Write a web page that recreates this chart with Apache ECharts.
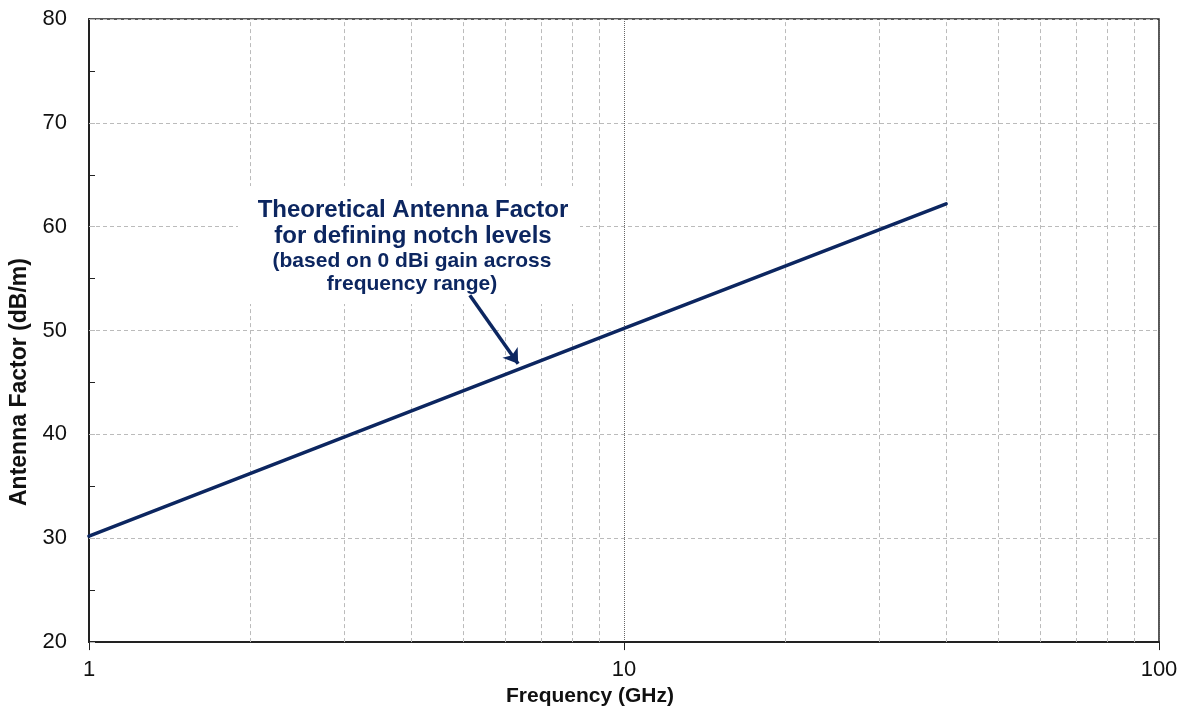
<!DOCTYPE html>
<html><head><meta charset="utf-8">
<script src="https://cdn.jsdelivr.net/npm/echarts@6/dist/echarts.min.js"></script>
<style>html,body{margin:0;padding:0;background:#fff}#c{width:1185px;height:712px}</style>
</head><body><div id="c"></div>
<script>
// Data
const freqGHz = [1, 10, 40];
const antennaFactor = [30.2, 50.2, 62.2];
const xTicks = [1, 10, 100];
const minorFreqs = [2,3,4,5,6,7,8,9,20,30,40,50,60,70,80,90];
const arrowFrom = [5.15, 53.4];
const arrowTo = [6.34, 46.8];
const annotTitle = ['Theoretical Antenna Factor', 'for defining notch levels'];
const annotSub = ['(based on 0 dBi gain across', 'frequency range)'];

const navy = '#0c2660';
const chart = echarts.init(document.getElementById('c'), null, {renderer: 'canvas'});
chart.setOption({
  animation: false,
  backgroundColor: '#fff',
  grid: {left: 89, right: 26, top: 19, bottom: 64, show: true, borderColor: '#222', borderWidth: 1.5, containLabel: false},
  xAxis: {
    type: 'log', logBase: 10, min: 1, max: 100,
    name: 'Frequency (GHz)', nameLocation: 'middle', nameGap: 41,
    nameTextStyle: {fontFamily: 'Liberation Sans', fontWeight: 'bold', fontSize: 21, color: '#111', padding: [0, 68, 0, 0]},
    axisLine: {show: true, lineStyle: {color: '#222', width: 2}},
    axisTick: {show: true, inside: false, length: 8, lineStyle: {color: '#222', width: 1}},
    axisLabel: {fontFamily: 'Liberation Sans', fontSize: 22, color: '#111', margin: 17,
      formatter: v => String(Math.round(v))},
    splitLine: {show: true, lineStyle: {color: '#666', type: 'dotted', width: 1}}
  },
  yAxis: {
    type: 'value', min: 20, max: 80, interval: 10,
    name: 'Antenna Factor (dB/m)', nameLocation: 'middle', nameGap: 57, nameRotate: 90,
    nameTextStyle: {fontFamily: 'Liberation Sans', fontWeight: 'bold', fontSize: 23, color: '#111', padding: [0, 103, 0, 0]},
    axisLine: {show: true, lineStyle: {color: '#222', width: 2}},
    axisTick: {show: true, inside: true, length: 6, lineStyle: {color: '#bbb', width: 1}},
    minorTick: {show: true, splitNumber: 2, length: 6, lineStyle: {color: '#222', width: 1}},
    axisLabel: {fontFamily: 'Liberation Sans', fontSize: 22, color: '#111', margin: 22},
    splitLine: {show: true, lineStyle: {color: '#bbb', type: [4, 3], width: 1}}
  },
  series: [
    {
      type: 'line', data: [], z: 1, silent: true,
      markLine: {
        silent: true, z: 1, symbol: ['none', 'none'], label: {show: false},
        lineStyle: {color: '#bbb', type: [4, 3], width: 1},
        data: minorFreqs.map(f => ({xAxis: f}))
      }
    },
    {
      type: 'line', z: 3,
      data: freqGHz.map((f, i) => [f, antennaFactor[i]]),
      showSymbol: false, symbol: 'none',
      lineStyle: {color: navy, width: 3.5, cap: 'round'}
    },
    {
      type: 'line', data: [], z: 10, silent: true,
      markLine: {
        silent: true, z: 10, symbol: ['none', 'arrow'], symbolSize: 14, label: {show: false},
        lineStyle: {color: navy, width: 3.5, type: 'solid'},
        data: [[{coord: arrowFrom}, {coord: arrowTo}]]
      }
    }
  ],
  graphic: [
    {type: 'rect', z: 4, shape: {x: 238, y: 186, width: 342, height: 118}, style: {fill: '#fff'}},
    {type: 'text', z: 11, x: 413, y: 197, style: {text: annotTitle.join('\n'), fill: navy,
      font: 'bold 24px "Liberation Sans"', textAlign: 'center', lineHeight: 26}},
    {type: 'text', z: 11, x: 412, y: 250, style: {text: annotSub.join('\n'), fill: navy,
      font: 'bold 21px "Liberation Sans"', textAlign: 'center', lineHeight: 23}}
  ]
});
</script></body></html>
